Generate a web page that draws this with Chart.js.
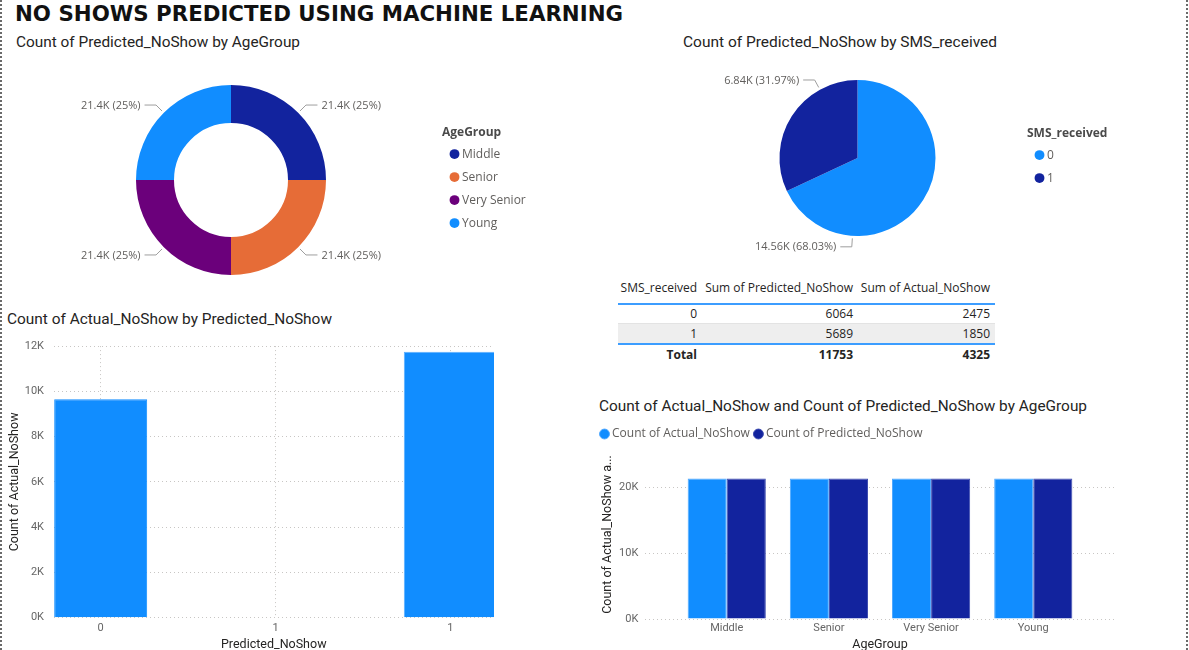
<!DOCTYPE html>
<html>
<head>
<meta charset="utf-8">
<script src="https://cdn.jsdelivr.net/npm/chart.js@4.4.1/dist/chart.umd.min.js"></script>
<style>
html,body{margin:0;padding:0;background:#fff;overflow:hidden;}
#page{position:relative;width:1189px;height:650px;overflow:hidden;background:#fff;}
.bd{position:absolute;top:0;width:2px;height:650px;background:repeating-linear-gradient(to bottom,#6a6a6a 0 2px,transparent 2px 4px);}
.txt{position:absolute;white-space:nowrap;transform-origin:0 50%;}
.ttl{font-family:Roboto,sans-serif;font-size:15.5px;line-height:19px;color:#252423;}
#mainTitle{font-family:'DejaVu Sans',sans-serif;font-weight:bold;font-size:22px;line-height:26px;color:#111;}
canvas{position:absolute;}
.tbl{position:absolute;left:618px;top:277px;width:377px;font-family:'Open Sans',sans-serif;font-size:12px;color:#252423;}
.row{display:grid;grid-template-columns:83px 156px 138px;}
.row div{text-align:right;padding-right:4px;white-space:nowrap;}
.row div:last-child{padding-right:5px;}
.hdr{height:26px;line-height:22px;border-bottom:2px solid #3C9DFF;}
.r0{height:18px;line-height:18px;border-bottom:1px solid #E3E3E3;}
.r1{height:19px;line-height:19px;background:#EEEEEE;border-bottom:2px solid #3C9DFF;}
.tot{height:19px;line-height:19px;font-weight:bold;}
</style>
</head>
<body>
<div id="page">
  <div class="bd" style="left:0"></div>
  <div class="bd" style="left:1186px"></div>
  <div id="mainTitle" class="txt fit" data-w="608" style="left:15px;top:0.5px">NO SHOWS PREDICTED USING MACHINE LEARNING</div>
  <div class="txt ttl fit" data-w="284" style="left:16px;top:32.5px">Count of Predicted_NoShow by AgeGroup</div>
  <div class="txt ttl fit" data-w="314" style="left:683px;top:32.5px">Count of Predicted_NoShow by SMS_received</div>
  <div class="txt ttl fit" data-w="325" style="left:7px;top:309.5px">Count of Actual_NoShow by Predicted_NoShow</div>
  <div class="txt ttl fit" data-w="488" style="left:599px;top:397px">Count of Actual_NoShow and Count of Predicted_NoShow by AgeGroup</div>

  <canvas id="cDonut" width="540" height="220" style="left:10px;top:70px"></canvas>
  <canvas id="cPie" width="450" height="196" style="left:680px;top:60px"></canvas>
  <canvas id="cBar" width="560" height="330" style="left:0px;top:330px"></canvas>
  <canvas id="cGroup" width="540" height="239" style="left:590px;top:421px"></canvas>

  <div class="tbl" id="tbl"></div>
</div>
<script>
// ---------- DATA ----------
const ageGroups = ['Middle', 'Senior', 'Very Senior', 'Young'];
const predictedCountByAge = [21400, 21400, 21400, 21400];
const ageColors = ['#12239E', '#E66C37', '#6B007B', '#118DFF'];

const smsLabels = ['0', '1'];
const predictedCountBySms = [14558, 6842];
const smsColors = ['#118DFF', '#12239E'];

const tableSms = ['0', '1'];
const tableSumPredicted = [6064, 5689];
const tableSumActual = [2475, 1850];
const tableHeaders = ['SMS_received', 'Sum of Predicted_NoShow', 'Sum of Actual_NoShow'];

const predictedNoShowValues = [0, 1];
const actualCountByPredicted = [9647, 11753];
const predictedTickValues = [0, 0.5, 1];
const predictedTickLabels = ['0', '1', '1'];

const actualCountByAge = [21400, 21400, 21400, 21400];
const predictedCountByAge2 = [21400, 21400, 21400, 21400];
const groupSeriesNames = ['Count of Actual_NoShow', 'Count of Predicted_NoShow'];
const groupYTicks = [0, 10000, 20000];

// ---------- STYLE ----------
const tickFont = {family: 'Roboto, sans-serif', size: 11};
const tickColor = '#666666';
const axisTitleFont = {family: 'Roboto, sans-serif', size: 12.5};
const axisTitleColor = '#252423';
const gridColor = '#C8C6C4';
const legendFont = {family: "'Open Sans', sans-serif", size: 12};
const legendTitleFont = {family: "'Open Sans', sans-serif", size: 12, weight: 'bold', lineHeight: 0.85};
const legendColor = '#605E5C';
const kFmt = v => (v / 1000) + 'K';

// fit titles to widths
document.querySelectorAll('.fit').forEach(el => {
  const w = el.getBoundingClientRect().width;
  el.style.transform = 'scaleX(' + (+el.dataset.w / w) + ')';
});

// table
(function () {
  const t = document.getElementById('tbl');
  const sum = a => a.reduce((x, y) => x + y, 0);
  const row = (cls, cells) => '<div class="row ' + cls + '">' + cells.map(c => '<div>' + c + '</div>').join('') + '</div>';
  let html = row('hdr', tableHeaders);
  tableSms.forEach((s, i) => { html += row(i === 0 ? 'r0' : 'r1', [s, tableSumPredicted[i], tableSumActual[i]]); });
  html += row('tot', ['Total', sum(tableSumPredicted), sum(tableSumActual)]);
  t.innerHTML = html;
})();

function legendWidth(texts, font, padding, boxWidth) {
  const ctx = document.createElement('canvas').getContext('2d');
  ctx.font = font.size + 'px ' + font.family;
  const m = Math.max(...texts.map(t => ctx.measureText(t).width));
  return padding + boxWidth + font.size / 2 + m + 10;
}

// widen legend clip box so the legend title is not cut
const legendWidenPlugin = {
  id: 'legendWiden',
  afterLayout(chart) {
    const l = chart.legend;
    if (l) { const extra = chart.width - l.right; l.right += extra; l.width += extra; }
  }
};

// arc labels with leader lines
const arcLabelPlugin = {
  id: 'arcLabels',
  afterDatasetsDraw(chart, args, o) {
    const meta = chart.getDatasetMeta(0);
    const data = chart.data.datasets[0].data;
    const total = data.reduce((a, b) => a + b, 0);
    const ctx = chart.ctx;
    ctx.save();
    ctx.font = o.font;
    ctx.fillStyle = o.color;
    ctx.strokeStyle = o.lineColor;
    ctx.lineWidth = 1;
    ctx.textBaseline = 'middle';
    meta.data.forEach((arc, i) => {
      const p = arc.getProps(['x', 'y', 'startAngle', 'endAngle', 'outerRadius'], true);
      const a = p.startAngle + (p.endAngle - p.startAngle) * o.anchor;
      const c = Math.cos(a), s = Math.sin(a);
      const r1 = p.outerRadius + o.startGap, r2 = p.outerRadius + o.elbowGap;
      const x1 = p.x + c * r1, y1 = p.y + s * r1;
      const x2 = p.x + c * r2, y2 = p.y + s * r2;
      const right = x2 >= p.x;
      const x3 = x2 + (right ? o.lineLen : -o.lineLen);
      ctx.beginPath();
      ctx.moveTo(x1, y1); ctx.lineTo(x2, y2); ctx.lineTo(x3, y2);
      ctx.stroke();
      const v = data[i];
      const txt = (v / 1000).toFixed(o.valueDecimals) + 'K (' + (v / total * 100).toFixed(o.pctDecimals) + '%)';
      ctx.textAlign = right ? 'left' : 'right';
      ctx.fillText(txt, x3 + (right ? o.textGap : -o.textGap), y2 + 0.5);
    });
    ctx.restore();
  }
};

const arcLabelBase = {font: "11px 'Open Sans', sans-serif", color: '#605E5C', lineColor: '#9E9E9E', startGap: 2.5, elbowGap: 11, lineLen: 11.5, textGap: 4};

function pieLegend(title) {
  return {
    position: 'right', align: 'center',
    title: {display: true, text: title, position: 'start', font: legendTitleFont, color: '#4A4A4A', padding: {top: 7, bottom: 0}},
    labels: {usePointStyle: true, pointStyle: 'circle', boxWidth: 3, boxHeight: 7, padding: 11, font: legendFont, color: legendColor}
  };
}

// ---------- DONUT ----------
(function () {
  const legendLeft = 442, centerX = 231, canvasLeft = 10, canvasW = 540;
  const lw = legendWidth(ageGroups, legendFont, 11, 3);
  new Chart(document.getElementById('cDonut'), {
    type: 'doughnut',
    data: {labels: ageGroups, datasets: [{data: predictedCountByAge, backgroundColor: ageColors, borderWidth: 0, hoverBorderWidth: 0, hoverOffset: 0}]},
    options: {
      responsive: false, animation: false, cutout: '60%',
      layout: {padding: {top: 15, bottom: 15, left: (2 * centerX - legendLeft) - canvasLeft, right: canvasLeft + canvasW - legendLeft - lw}},
      plugins: {
        legend: pieLegend('AgeGroup'),
        tooltip: {enabled: false},
        arcLabels: Object.assign({}, arcLabelBase, {anchor: 0.5, valueDecimals: 1, pctDecimals: 0})
      }
    },
    plugins: [arcLabelPlugin, legendWidenPlugin]
  });
})();

// ---------- PIE ----------
(function () {
  const legendLeft = 1027, centerX = 857.5, canvasLeft = 680, canvasW = 450;
  const lw = legendWidth(smsLabels, legendFont, 11, 3);
  new Chart(document.getElementById('cPie'), {
    type: 'pie',
    data: {labels: smsLabels, datasets: [{data: predictedCountBySms, backgroundColor: smsColors, borderWidth: 0, hoverBorderWidth: 0, hoverOffset: 0}]},
    options: {
      responsive: false, animation: false,
      layout: {padding: {top: 20, bottom: 20, left: (2 * centerX - legendLeft) - canvasLeft, right: canvasLeft + canvasW - legendLeft - lw}},
      plugins: {
        legend: pieLegend('SMS_received'),
        tooltip: {enabled: false},
        arcLabels: Object.assign({}, arcLabelBase, {anchor: 0.75, valueDecimals: 2, pctDecimals: 2})
      }
    },
    plugins: [arcLabelPlugin, legendWidenPlugin]
  });
})();

// ---------- BAR: Actual by Predicted ----------
new Chart(document.getElementById('cBar'), {
  type: 'bar',
  data: {
    datasets: [{
      label: 'Count of Actual_NoShow',
      data: predictedNoShowValues.map((x, i) => ({x: x, y: actualCountByPredicted[i]})),
      backgroundColor: '#118DFF',
      borderColor: ['#118DFF', '#5AAEFF'],
      borderWidth: 1,
      categoryPercentage: 0.532,
      barPercentage: 1
    }]
  },
  options: {
    responsive: false, animation: false,
    layout: {padding: {top: 11.7, right: 66, left: 0, bottom: 0}},
    plugins: {legend: {display: false}, tooltip: {enabled: false}},
    scales: {
      x: {
        type: 'linear', min: -0.135, max: 1.125, offset: false,
        afterBuildTicks: s => { s.ticks = predictedTickValues.map(v => ({value: v})); },
        afterFit: s => { s.height = 42.3; },
        ticks: {callback: (v, i) => predictedTickLabels[i], padding: 4, font: tickFont, color: tickColor, maxRotation: 0},
        grid: {color: gridColor, drawTicks: false, offset: false},
        border: {display: false, dash: [1, 3]},
        title: {display: true, text: 'Predicted_NoShow', font: axisTitleFont, color: axisTitleColor, padding: {top: 0, bottom: 7.5}}
      },
      y: {
        min: 0, max: 12000,
        afterFit: s => { s.width = 53.5; },
        ticks: {stepSize: 2000, callback: kFmt, padding: 9.5, font: tickFont, color: tickColor},
        grid: {color: gridColor, drawTicks: false},
        border: {display: false, dash: [1, 3]},
        title: {display: true, text: 'Count of Actual_NoShow', font: axisTitleFont, color: axisTitleColor, padding: {top: 7.5, bottom: 0}}
      }
    }
  }
});

// ---------- GROUPED BAR ----------
new Chart(document.getElementById('cGroup'), {
  type: 'bar',
  data: {
    datasets: [
      {label: groupSeriesNames[0], data: actualCountByAge.map((y, i) => ({x: i, y: y})), backgroundColor: '#118DFF', borderColor: '#4FA8FF', borderWidth: 1, categoryPercentage: 0.765, barPercentage: 1},
      {label: groupSeriesNames[1], data: predictedCountByAge2.map((y, i) => ({x: i, y: y})), backgroundColor: '#12239E', borderColor: '#3D4BB0', borderWidth: 1, categoryPercentage: 0.765, barPercentage: 1}
    ]
  },
  options: {
    responsive: false, animation: false,
    layout: {padding: {top: 0, right: 15, left: 6, bottom: 0}},
    plugins: {
      legend: {position: 'top', align: 'start', labels: {usePointStyle: true, pointStyle: 'circle', boxWidth: 3, boxHeight: 7, padding: 7, font: legendFont, color: legendColor}},
      tooltip: {enabled: false}
    },
    scales: {
      x: {
        type: 'linear', min: -0.8, max: 3.8, offset: false,
        afterBuildTicks: s => { s.ticks = ageGroups.map((g, i) => ({value: i})); },
        afterFit: s => { s.height = 41; },
        ticks: {callback: (v, i) => ageGroups[i], padding: 2.7, font: tickFont, color: tickColor, maxRotation: 0, autoSkip: false},
        grid: {display: false, drawTicks: false, offset: false},
        border: {display: false},
        title: {display: true, text: 'AgeGroup', font: axisTitleFont, color: axisTitleColor, padding: {top: 0, bottom: 7.5}}
      },
      y: {
        min: 0, max: 25750,
        afterBuildTicks: s => { s.ticks = groupYTicks.map(v => ({value: v})); },
        afterFit: s => { s.width = 49; },
        ticks: {callback: kFmt, padding: 6.7, font: tickFont, color: tickColor},
        grid: {color: gridColor, drawTicks: false},
        border: {display: false, dash: [1, 3]},
        title: {display: true, text: 'Count of Actual_NoShow a...', font: axisTitleFont, color: axisTitleColor, padding: {top: 4.5, bottom: 0}}
      }
    }
  }
});
</script>
</body>
</html>
